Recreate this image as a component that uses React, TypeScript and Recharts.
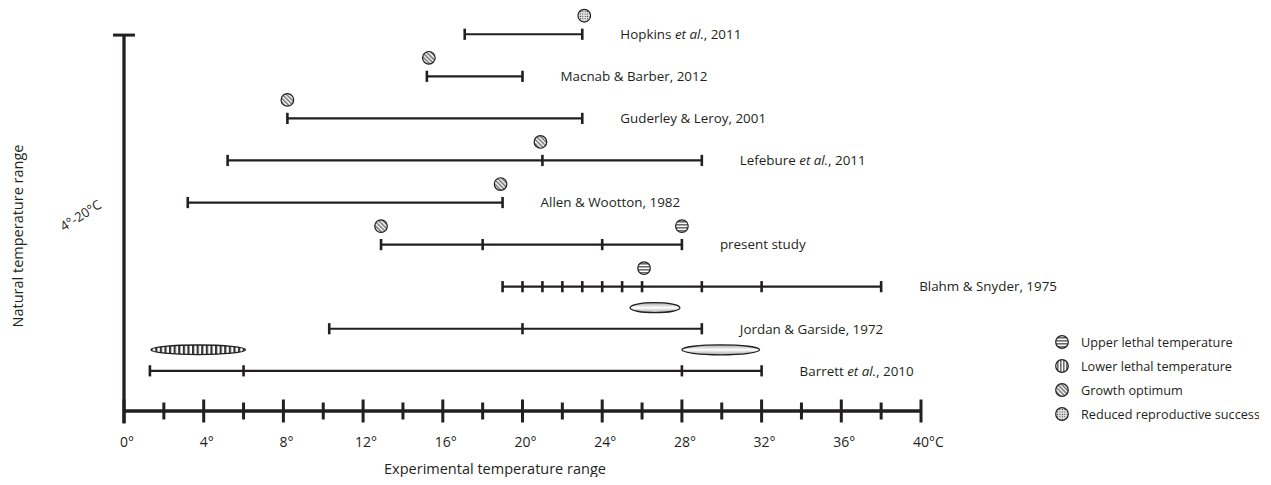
import React from "react";
import {
  ComposedChart,
  Scatter,
  XAxis,
  YAxis,
  ReferenceLine,
  ReferenceArea,
  Legend,
  Customized,
} from "recharts";

const INK = "#231f20";
const FONT = "'Open Sans', sans-serif";

// studies, listed top to bottom
const authors = [
  "Hopkins",
  "Macnab & Barber",
  "Guderley & Leroy",
  "Lefebure",
  "Allen & Wootton",
  "present study",
  "Blahm & Snyder",
  "Jordan & Garside",
  "Barrett",
];
const etAl = [true, false, false, true, false, false, false, false, true];
const years = ["2011", "2012", "2001", "2011", "1982", "", "1975", "1972", "2010"];

// tested temperature range of each study (°C) and the intermediate test temperatures
const rangeLow = [17.1, 15.2, 8.2, 5.2, 3.2, 12.9, 19, 10.3, 1.3];
const rangeHigh = [23, 20, 23, 29, 19, 28, 38, 29, 32];
const rangeSteps = [[], [], [], [21], [], [18, 24], [20, 21, 22, 23, 24, 25, 26, 29, 32], [20], [6, 28]];

// single observations: [study, temperature]
const growthOptimum = [[1, 15.3], [2, 8.2], [3, 20.9], [4, 18.9], [5, 12.9]];
const upperLethal = [[5, 28], [6, 26.1]];
const reducedRepro = [[0, 23.1]];

// lethal temperature spans: [study, from, to]
const upperLethalSpans = [[7, 25.4, 27.9], [8, 28, 31.9]];
const lowerLethalSpans = [[8, 1.35, 6.1]];

const tempTicks = [0, 2, 4, 6, 8, 10, 12, 14, 16, 18, 20, 22, 24, 26, 28, 30, 32, 34, 36, 38, 40];

const legendItems = [
  { name: "Upper lethal temperature", fill: "url(#fill-upper)" },
  { name: "Lower lethal temperature", fill: "url(#fill-lower)" },
  { name: "Growth optimum", fill: "url(#fill-growth)" },
  { name: "Reduced reproductive success", fill: "url(#fill-repro)" },
];

const toPoints = (list: number[][]) => list.map(([row, t]) => ({ row, t }));

const studyPoints = (i: number) =>
  [rangeLow[i], ...rangeSteps[i], rangeHigh[i]].map((t, k, arr) => ({
    row: i,
    t,
    last: k === arr.length - 1,
  }));

const StudyMark = (props: any) => {
  const { cx, cy, payload } = props;
  const i = payload.row;
  return (
    <g>
      <line x1={cx} x2={cx} y1={cy - 5.6} y2={cy + 5.6} stroke={INK} strokeWidth={2.6} />
      {payload.last && (
        <text x={cx + 38} y={cy + 4.8} fontFamily={FONT} fontSize={13.4} fill={INK}>
          {authors[i]}
          {etAl[i] && <tspan fontStyle="italic"> et al.</tspan>}
          {years[i] ? `, ${years[i]}` : ""}
        </text>
      )}
    </g>
  );
};

const markerShape = (fill: string) => (props: any) => (
  <circle cx={props.cx} cy={props.cy - 18.5} r={6.3} fill={fill} stroke={INK} strokeWidth={1.2} />
);

const spanShape = (fill: string, ry: number) => (props: any) => (
  <ellipse
    cx={props.x + props.width / 2}
    cy={props.y + props.height / 2}
    rx={props.width / 2}
    ry={ry}
    fill={fill}
    stroke={INK}
    strokeWidth={1.3}
  />
);

const TempTick = (props: any) => {
  const { x, y, payload } = props;
  const v = payload.value;
  const major = v % 4 === 0;
  const half = major ? 11.5 : 8.5;
  const num = String(v);
  return (
    <g>
      <line x1={x} x2={x} y1={y - half} y2={y + half} stroke={INK} strokeWidth={3} />
      {major && (
        <text x={x - num.length * 4} y={y + 36} fontFamily={FONT} fontSize={14} fill={INK}>
          {num}°{v === 40 ? "C" : ""}
        </text>
      )}
    </g>
  );
};

const AxisTitles = () => (
  <g fontFamily={FONT} fill={INK}>
    <text x={487} y={466} textAnchor="middle" fontSize={14.5}>
      Experimental temperature range
    </text>
    <text x={10} y={228} textAnchor="middle" fontSize={14.5} transform="rotate(-90 10 228)" dy={5}>
      Natural temperature range
    </text>
    <text x={73} y={208} textAnchor="middle" fontSize={13} transform="rotate(-32 73 208)" dy={4}>
      4°-20°C
    </text>
  </g>
);

const LegendBox = () => (
  <svg width={205} height={100}>
    {legendItems.map((item, i) => (
      <g key={item.name} transform={`translate(0, ${i * 24})`}>
        <circle cx={8} cy={8} r={6.3} fill={item.fill} stroke={INK} strokeWidth={1.2} />
        <text x={27} y={12.6} fontFamily={FONT} fontSize={12.7} fill={INK}>
          {item.name}
        </text>
      </g>
    ))}
  </svg>
);

const Patterns = () => (
  <svg width={0} height={0} style={{ position: "absolute" }}>
    <defs>
      <pattern id="fill-upper" width={3} height={3} patternUnits="userSpaceOnUse">
        <rect width={3} height={3} fill="#fff" />
        <rect width={3} height={1.6} fill="#6d6d6d" />
      </pattern>
      <pattern id="fill-lower" width={3} height={3} patternUnits="userSpaceOnUse">
        <rect width={3} height={3} fill="#fff" />
        <rect width={1.6} height={3} fill="#6d6d6d" />
      </pattern>
      <pattern id="fill-growth" width={3} height={3} patternUnits="userSpaceOnUse" patternTransform="rotate(-45)">
        <rect width={3} height={3} fill="#fff" />
        <rect width={1.5} height={3} fill="#6d6d6d" />
      </pattern>
      <pattern id="fill-repro" width={2.4} height={2.4} patternUnits="userSpaceOnUse">
        <rect width={2.4} height={2.4} fill="#e4e4e4" />
        <circle cx={1.2} cy={1.2} r={0.6} fill="#333" />
      </pattern>
      <pattern id="fill-lower-span" width={4.6} height={4} patternUnits="userSpaceOnUse">
        <rect width={4.6} height={4} fill="#fff" />
        <rect width={2.2} height={4} fill="#333" />
      </pattern>
      <linearGradient id="fill-upper-span" x1="0" y1="0" x2="0" y2="1">
        <stop offset="0%" stopColor="#a8a8a8" />
        <stop offset="50%" stopColor="#ffffff" />
        <stop offset="100%" stopColor="#a8a8a8" />
      </linearGradient>
    </defs>
  </svg>
);

export default function App() {
  return (
    <div style={{ position: "relative" }}>
      <Patterns />
      <ComposedChart width={1255} height={469} margin={{ top: 1, right: 342, bottom: 6, left: 116 }}>
        <XAxis
          type="number"
          dataKey="t"
          domain={[0, 40]}
          ticks={tempTicks}
          interval={0}
          height={60}
          axisLine={{ stroke: INK, strokeWidth: 3.3 }}
          tickLine={false}
          tickSize={0}
          tickMargin={0}
          tick={<TempTick />}
        />
        <YAxis type="number" dataKey="row" domain={[-0.6, 8.955]} reversed hide width={0} />

        <ReferenceLine
          segment={[{ x: 0, y: 0.02 }, { x: 0, y: 9.25 }]}
          stroke={INK}
          strokeWidth={3.3}
          ifOverflow="visible"
        />
        <ReferenceLine
          segment={[{ x: -0.55, y: 0.02 }, { x: 0.55, y: 0.02 }]}
          stroke={INK}
          strokeWidth={3}
          ifOverflow="visible"
        />

        {authors.map((name, i) => (
          <Scatter
            key={name}
            data={studyPoints(i)}
            fill={INK}
            line={{ stroke: INK, strokeWidth: 2.2 }}
            shape={<StudyMark />}
            legendType="none"
            isAnimationActive={false}
          />
        ))}

        {upperLethalSpans.map(([row, from, to]) => (
          <ReferenceArea
            key={`u${row}`}
            x1={from}
            x2={to}
            y1={row - 0.5}
            y2={row - 0.5}
            shape={spanShape("url(#fill-upper-span)", 5)}
          />
        ))}
        {lowerLethalSpans.map(([row, from, to]) => (
          <ReferenceArea
            key={`l${row}`}
            x1={from}
            x2={to}
            y1={row - 0.5}
            y2={row - 0.5}
            shape={spanShape("url(#fill-lower-span)", 4.8)}
          />
        ))}

        <Scatter data={toPoints(upperLethal)} shape={markerShape("url(#fill-upper)")} legendType="none" isAnimationActive={false} />
        <Scatter data={toPoints(growthOptimum)} shape={markerShape("url(#fill-growth)")} legendType="none" isAnimationActive={false} />
        <Scatter data={toPoints(reducedRepro)} shape={markerShape("url(#fill-repro)")} legendType="none" isAnimationActive={false} />

        <Customized component={AxisTitles} />
        <Legend
          content={<LegendBox />}
          layout="horizontal"
          verticalAlign="middle"
          align="center"
          wrapperStyle={{ left: 1046, top: 326, width: 205, height: 100 }}
        />
      </ComposedChart>
    </div>
  );
}
